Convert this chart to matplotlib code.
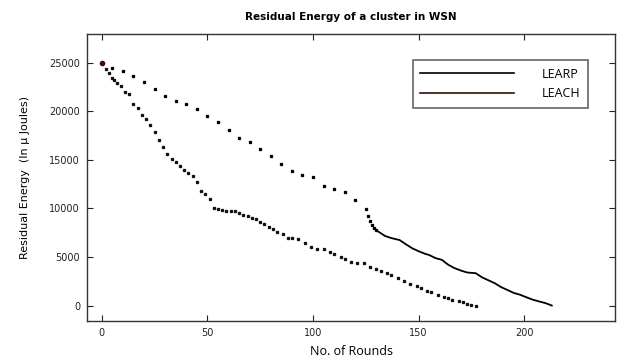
import matplotlib
matplotlib.use('Agg')

import matplotlib.pyplot as plt
from matplotlib.lines import Line2D

# LEARP: sparse dots every 5 rounds, then a dense tail that reads as a line
learp_x = [0, 5, 10, 15, 20, 25, 30, 35, 40, 45, 50, 55, 60, 65, 70, 75, 80,
           85, 90, 95, 100, 105, 110, 115, 120, 125, 126, 127, 128, 129, 130]
learp_y = [25000, 24450, 24150, 23620, 23070, 22290, 21620, 21070, 20800,
           20280, 19510, 18860, 18090, 17280, 16880, 16100, 15420, 14550,
           13870, 13490, 13200, 12270, 11950, 11660, 10890, 9950, 9170, 8740,
           8290, 8000, 7800]
learp_tail_x = [131, 134, 137, 141, 144, 147, 150, 153, 155, 158, 161, 164,
                167, 170, 173, 177, 180, 183, 186, 189, 192, 195, 198, 201,
                204, 207, 210, 213]
learp_tail_y = [7600, 7170, 6950, 6740, 6300, 5890, 5590, 5330, 5200, 4880,
                4700, 4200, 3850, 3600, 3400, 3330, 2900, 2600, 2300, 1900,
                1600, 1300, 1110, 850, 600, 420, 250, 0]

# LEACH: dots every ~2 rounds
leach_x = [0, 2, 3.5, 5, 6, 7, 9, 11, 13, 15, 17, 19, 21, 23, 25, 27, 29, 31,
           33, 35, 37, 39, 41, 43, 45, 47, 49, 51, 53, 55, 57, 59, 61, 63, 65,
           67, 69, 71, 73, 75, 77, 79, 81, 83, 86, 88, 90, 93, 96, 99, 102,
           105, 108, 110, 113, 115, 118, 121, 124, 127, 130, 132, 135, 137,
           140, 143, 146, 149, 151, 154, 156, 159, 162, 164, 166, 169, 171,
           173, 175, 177]
leach_y = [25000, 24380, 23935, 23420, 23180, 22900, 22590, 21975, 21770,
           20800, 20360, 19670, 19230, 18640, 17890, 17000, 16310, 15560,
           15100, 14800, 14350, 14000, 13660, 13300, 12720, 11750, 11500,
           11000, 10070, 9950, 9830, 9690, 9690, 9690, 9500, 9350, 9200, 9060,
           8900, 8600, 8350, 8050, 7850, 7610, 7340, 7000, 7000, 6820, 6410,
           6070, 5860, 5800, 5555, 5315, 5040, 4770, 4490, 4420, 4420, 4010,
           3810, 3600, 3395, 3120, 2810, 2570, 2230, 2000, 1780, 1540, 1400,
           1100, 900, 760, 620, 480, 330, 175, 50, -100]

series_names = ['LEARP', 'LEACH']
learp_color = '#000000'
leach_color = '#3a0c06'

fig = plt.figure(figsize=(6.17, 3.58), dpi=100)
ax = fig.add_axes([0.141, 0.104, 0.856, 0.802])

ax.plot(leach_x, leach_y, ls='none', marker='s', ms=1.4, color='#111111')
ax.plot(learp_x, learp_y, ls='none', marker='s', ms=1.4, color=learp_color)
ax.plot(learp_tail_x, learp_tail_y, '-', lw=1.3, color=learp_color)
ax.plot([0], [25000], ls='none', marker='o', ms=3, color=leach_color)

ax.set_xlim(-7, 243)
ax.set_ylim(-1570, 28000)
ax.set_xticks([0, 50, 100, 150, 200])
ax.set_yticks([0, 5000, 10000, 15000, 20000, 25000])
ax.tick_params(direction='in', top=True, right=True, length=4, width=0.8,
               labelsize=7, colors='#222222', pad=5)
for s in ax.spines.values():
    s.set_color('#333333')
    s.set_linewidth(1.0)

ax.set_title('Residual Energy of a cluster in WSN', fontsize=7.5,
             fontweight='bold', pad=10)
ax.set_xlabel('No. of Rounds', fontsize=9, family='Open Sans', labelpad=5)
ax.set_ylabel('Residual Energy  (In µ Joules)', fontsize=8,
              family='Liberation Sans Narrow', labelpad=14)

handles = [Line2D([], [], color=learp_color, lw=1.2),
           Line2D([], [], color=leach_color, lw=1.2)]
leg = ax.legend(handles, series_names, loc='upper right',
                bbox_to_anchor=(0.96, 0.93), handlelength=7.5,
                handletextpad=2.2, borderpad=0.6, labelspacing=0.55,
                fancybox=False, framealpha=1,
                prop={'family': 'Open Sans', 'size': 9})
leg.get_frame().set_edgecolor('#666666')
leg.get_frame().set_linewidth(1.2)

fig.savefig('out.png', dpi=100)
